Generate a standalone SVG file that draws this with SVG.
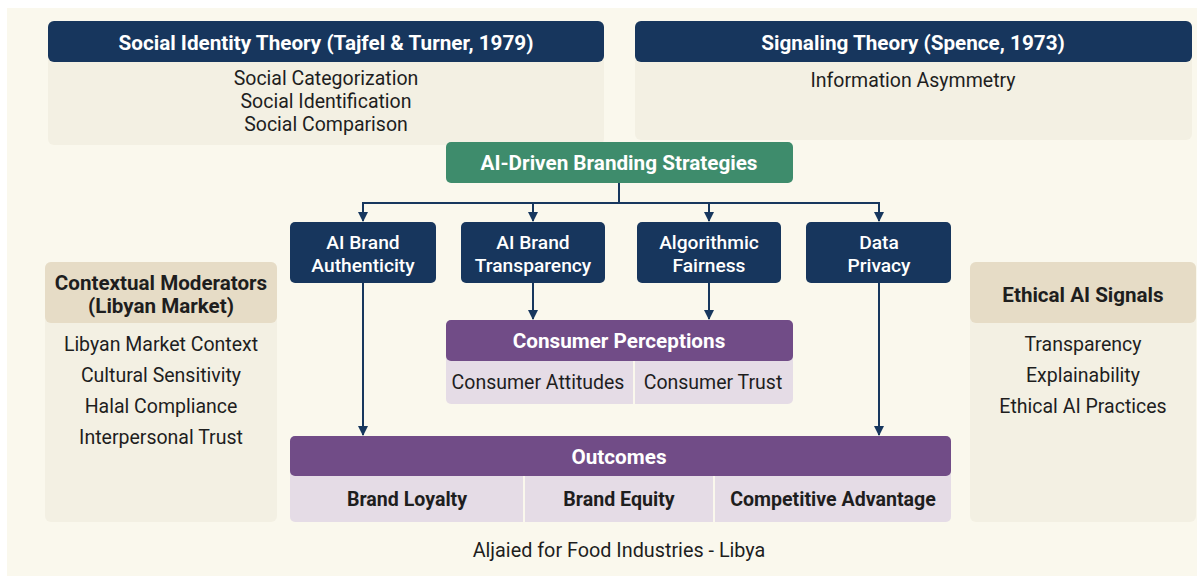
<svg xmlns="http://www.w3.org/2000/svg" width="1204" height="576" viewBox="0 0 1204 576">
  <defs>
    <marker id="arrow" viewBox="0 0 10 10" refX="9" refY="5" markerWidth="10" markerHeight="10" markerUnits="userSpaceOnUse" orient="auto">
      <path d="M0,0 L10,5 L0,10 z" fill="#17375e"/>
    </marker>
    <style>
      text { font-family: Roboto, "Liberation Sans", sans-serif; text-anchor: middle; }
      .navy { fill: #17365d; }
      .green { fill: #3e8c6c; }
      .purple { fill: #714c87; }
      .lilac { fill: #e5dce6; }
      .tan { fill: #e6dcc6; }
      .pane { fill: #f3f0e3; }
      .hw { fill: #ffffff; font-weight: 700; font-size: 20.7px; }
      .bw { fill: #ffffff; font-weight: 500; font-size: 19.2px; }
      .dk { fill: #1e1e1e; font-size: 19.5px; }
      .dkb { fill: #1e1e1e; font-size: 19.6px; font-weight: 700; }
      .ph { fill: #1e1e1e; font-size: 20.6px; font-weight: 700; }
      .conn { fill: none; stroke: #17375e; stroke-width: 2; }
    </style>
  </defs>

  <!-- page -->
  <rect x="0" y="0" width="1204" height="576" fill="#ffffff"/>
  <rect x="7" y="8" width="1190" height="568" fill="#faf8ed"/>

  <!-- theory panels -->
  <g id="social-identity-theory">
    <rect x="48" y="21" width="556" height="124" rx="6" class="pane"/>
    <rect x="48" y="21" width="556" height="41" rx="6" class="navy"/>
    <text x="326" y="49.5" class="hw">Social Identity Theory (Tajfel &amp; Turner, 1979)</text>
    <text x="326" y="85" class="dk">Social Categorization</text>
    <text x="326" y="108" class="dk">Social Identification</text>
    <text x="326" y="131" class="dk">Social Comparison</text>
  </g>

  <g id="signaling-theory">
    <rect x="635" y="21" width="557" height="119" rx="6" class="pane"/>
    <rect x="635" y="21" width="557" height="41" rx="6" class="navy"/>
    <text x="913" y="49.5" class="hw">Signaling Theory (Spence, 1973)</text>
    <text x="913" y="87" class="dk">Information Asymmetry</text>
  </g>

  <!-- strategy root -->
  <g id="ai-driven-branding">
    <rect x="446" y="142" width="347" height="41" rx="5" class="green"/>
    <text x="619" y="169.5" class="hw">AI-Driven Branding Strategies</text>
  </g>

  <!-- strategy dimensions -->
  <g id="ai-brand-authenticity">
    <rect x="290" y="222" width="146" height="61" rx="5" class="navy"/>
    <text x="363" y="248.5" class="bw">AI Brand</text>
    <text x="363" y="271.5" class="bw">Authenticity</text>
  </g>
  <g id="ai-brand-transparency">
    <rect x="461" y="222" width="144" height="61" rx="5" class="navy"/>
    <text x="533" y="248.5" class="bw">AI Brand</text>
    <text x="533" y="271.5" class="bw">Transparency</text>
  </g>
  <g id="algorithmic-fairness">
    <rect x="637" y="222" width="144" height="61" rx="5" class="navy"/>
    <text x="709" y="248.5" class="bw">Algorithmic</text>
    <text x="709" y="271.5" class="bw">Fairness</text>
  </g>
  <g id="data-privacy">
    <rect x="806" y="222" width="145" height="61" rx="5" class="navy"/>
    <text x="879" y="248.5" class="bw">Data</text>
    <text x="879" y="271.5" class="bw">Privacy</text>
  </g>

  <!-- mediators -->
  <g id="consumer-perceptions">
    <rect x="446" y="320" width="347" height="84" rx="5" class="lilac"/>
    <rect x="446" y="320" width="347" height="41" rx="5" class="purple"/>
    <line x1="634" y1="361" x2="634" y2="404" stroke="#faf8ed" stroke-width="2"/>
    <text x="619" y="348" class="hw">Consumer Perceptions</text>
    <text x="538" y="389" class="dk">Consumer Attitudes</text>
    <text x="713" y="389" class="dk">Consumer Trust</text>
  </g>

  <!-- outcomes -->
  <g id="outcomes">
    <rect x="290" y="436" width="661" height="86" rx="5" class="lilac"/>
    <rect x="290" y="436" width="661" height="40" rx="5" class="purple"/>
    <line x1="524" y1="476" x2="524" y2="522" stroke="#faf8ed" stroke-width="2"/>
    <line x1="714" y1="476" x2="714" y2="522" stroke="#faf8ed" stroke-width="2"/>
    <text x="619" y="463.5" class="hw">Outcomes</text>
    <text x="407" y="506" class="dkb">Brand Loyalty</text>
    <text x="619" y="506" class="dkb">Brand Equity</text>
    <text x="833" y="506" class="dkb">Competitive Advantage</text>
  </g>

  <!-- side panels -->
  <g id="contextual-moderators">
    <rect x="45" y="262" width="232" height="260" rx="6" class="pane"/>
    <rect x="45" y="262" width="232" height="61" rx="6" class="tan"/>
    <text x="161" y="289.5" class="ph">Contextual Moderators</text>
    <text x="161" y="312.5" class="ph">(Libyan Market)</text>
    <text x="161" y="351" class="dk">Libyan Market Context</text>
    <text x="161" y="382" class="dk">Cultural Sensitivity</text>
    <text x="161" y="413" class="dk">Halal Compliance</text>
    <text x="161" y="444" class="dk">Interpersonal Trust</text>
  </g>

  <g id="ethical-ai-signals">
    <rect x="970" y="262" width="226" height="260" rx="6" class="pane"/>
    <rect x="970" y="262" width="226" height="61" rx="6" class="tan"/>
    <text x="1083" y="301.5" class="ph">Ethical AI Signals</text>
    <text x="1083" y="351" class="dk">Transparency</text>
    <text x="1083" y="382" class="dk">Explainability</text>
    <text x="1083" y="413" class="dk">Ethical AI Practices</text>
  </g>

  <!-- connectors -->
  <g id="connectors">
    <path class="conn" d="M619,183 V203 M363,203 H879"/>
    <path class="conn" d="M363,202 V221" marker-end="url(#arrow)"/>
    <path class="conn" d="M533,202 V221" marker-end="url(#arrow)"/>
    <path class="conn" d="M709,202 V221" marker-end="url(#arrow)"/>
    <path class="conn" d="M879,202 V221" marker-end="url(#arrow)"/>
    <path class="conn" d="M533,283 V319" marker-end="url(#arrow)"/>
    <path class="conn" d="M709,283 V319" marker-end="url(#arrow)"/>
    <path class="conn" d="M363,283 V435" marker-end="url(#arrow)"/>
    <path class="conn" d="M879,283 V435" marker-end="url(#arrow)"/>
  </g>

  <!-- footer -->
  <text x="619" y="557" class="dk" style="font-size:19.8px">Aljaied for Food Industries - Libya</text>
</svg>
